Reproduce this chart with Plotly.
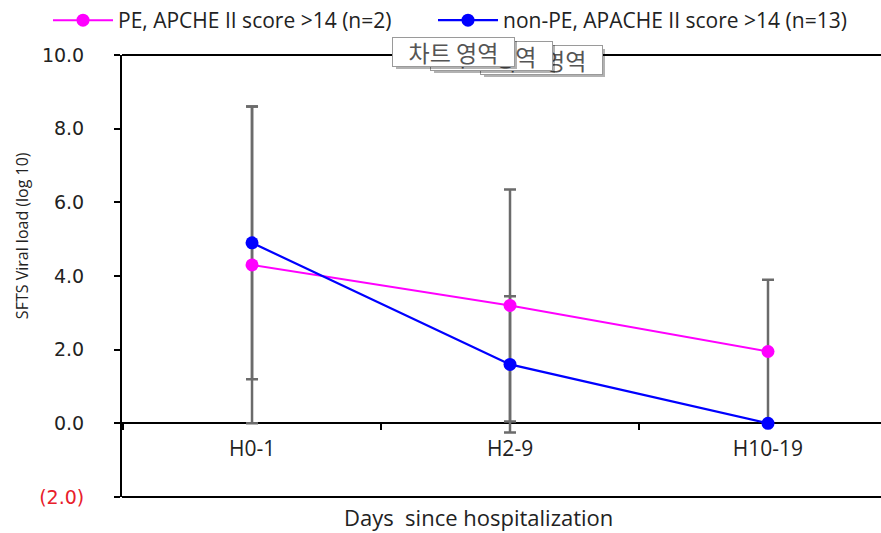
import plotly.graph_objects as go

# ---- data ----
categories = ["H0-1", "H2-9", "H10-19"]
pe_name = "PE, APCHE II score >14 (n=2)"
pe_mean = [4.3, 3.2, 1.95]
pe_err = [4.3, 3.15, 1.95]
nonpe_name = "non-PE, APACHE II score >14 (n=13)"
nonpe_mean = [4.9, 1.6, 0.0]
nonpe_err = [3.7, 1.85, 0.0]
y_tickvals = [-2, 0, 2, 4, 6, 8, 10]
y_ticktext = ['<span style="color:#e8202a">(2.0)</span>', "0.0", "2.0", "4.0", "6.0", "8.0", "10.0"]
y_title = "SFTS Viral load (log 10)"
x_title = "Days\u00a0 since hospitalization"
popup_text = "차트 영역"

W, H = 881, 533
L, R, T, B = 122, 0, 48, 36
PW, PH = W - L - R, H - T - B


def px(x):
    return (x - L) / PW


def py(y):
    return (H - B - y) / PH


PINK = "#ff00ff"
BLUE = "#0000ff"
GRAY = "#6b6b6b"

fig = go.Figure()
for mean, err in [(pe_mean, pe_err), (nonpe_mean, nonpe_err)]:
    fig.add_trace(go.Scatter(
        x=categories, y=mean, mode="markers",
        marker=dict(color="rgba(0,0,0,0)", size=1),
        error_y=dict(type="data", array=err, arrayminus=err, color=GRAY,
                     thickness=2.5, width=6),
        showlegend=False, hoverinfo="skip"))

fig.add_trace(go.Scatter(x=categories, y=pe_mean, name=pe_name, mode="lines+markers",
                         line=dict(color=PINK, width=2),
                         marker=dict(color=PINK, size=13), legend="legend"))
fig.add_trace(go.Scatter(x=categories, y=nonpe_mean, name=nonpe_name, mode="lines+markers",
                         line=dict(color=BLUE, width=2.2),
                         marker=dict(color=BLUE, size=13), legend="legend2"))

# plot frame lines (top / bottom)
for yy in (0, 1):
    fig.add_shape(type="line", xref="paper", yref="paper", x0=0, x1=1.01, y0=yy, y1=yy,
                  line=dict(color="black", width=2))

annotations = [
    dict(text=y_title, textangle=-90, x=px(22), y=py(232), xref="paper", yref="paper",
         xanchor="center", yanchor="middle",
         showarrow=False, font=dict(family="Open Sans", size=16, color="#222")),
    dict(text=x_title, x=px(478), y=py(517), xref="paper", yref="paper",
         xanchor="center", yanchor="middle",
         showarrow=False, font=dict(family="Open Sans", size=22, color="#222")),
]

# overlapping popup boxes (back to front)
boxes = [(480, 38), (430, 34), (392, 30)]
for bx, by in boxes:
    annotations.append(dict(text=" ", x=px(bx + 4), y=py(by + 4), xref="paper", yref="paper",
                            xanchor="left", yanchor="top", width=121, height=28,
                            bgcolor="rgba(0,0,0,0.3)", borderwidth=0, borderpad=0,
                            showarrow=False))
    annotations.append(dict(text=popup_text, x=px(bx), y=py(by), xref="paper", yref="paper",
                            xanchor="left", yanchor="top", width=121, height=28,
                            bgcolor="white", bordercolor="#9a9a9a", borderwidth=1, borderpad=0,
                            showarrow=False,
                            font=dict(family="Noto Sans CJK KR", size=23, color="#555")))

legend_style = dict(orientation="h", yanchor="middle", xanchor="left",
                    font=dict(family="Open Sans", size=21, color="#222"),
                    bgcolor="rgba(0,0,0,0)", itemwidth=60)

fig.update_layout(
    width=W, height=H,
    margin=dict(l=L, r=R, t=T, b=B),
    paper_bgcolor="white", plot_bgcolor="white",
    showlegend=True,
    legend=dict(x=px(48), y=py(13), **legend_style),
    legend2=dict(x=px(433), y=py(13), **legend_style),
    annotations=annotations,
    xaxis=dict(type="category", range=[-0.504, 2.438], anchor="free", position=2 / 12,
               showline=True, linecolor="black", linewidth=2, layer="below traces",
               ticks="outside", tickson="boundaries", ticklen=6, tickwidth=2, tickcolor="black",
               ticklabelstandoff=6,
               showgrid=False, zeroline=False,
               tickfont=dict(family="Open Sans", size=21, color="#222")),
    yaxis=dict(range=[-2, 10], showline=True, linecolor="black", linewidth=2,
               ticks="outside", ticklen=6, tickwidth=2, tickcolor="black",
               tickvals=y_tickvals, ticktext=y_ticktext, ticklabelstandoff=26,
               showgrid=False, zeroline=False,
               tickfont=dict(family="DejaVu Sans", size=19, color="#222")),
)

fig.write_html("out.html")
